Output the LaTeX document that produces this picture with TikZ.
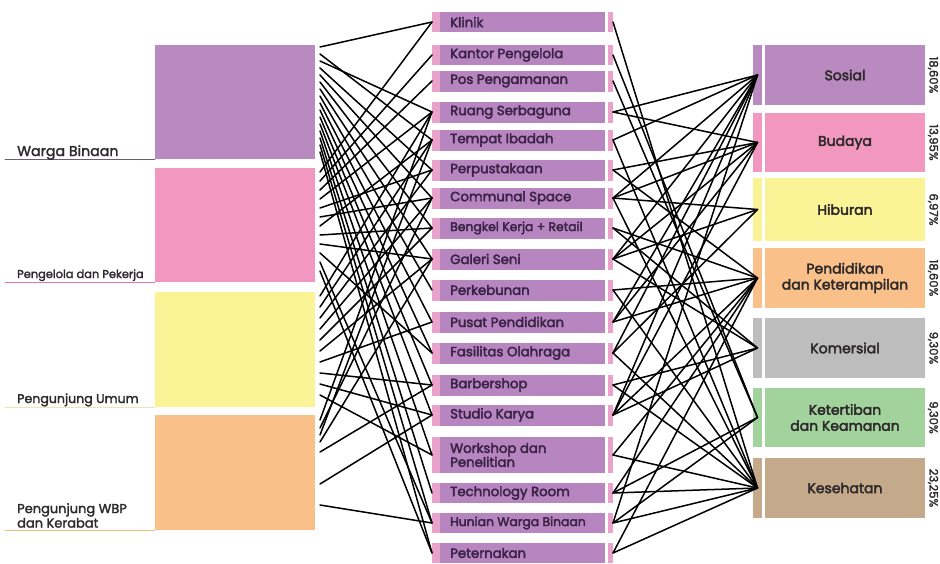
\documentclass[tikz,border=0pt]{standalone}
\usepackage{fontspec}
\setmainfont{Poppins}
\newfontfamily\popb{Poppins}[FakeBold=3]
\newfontfamily\popm{Poppins}[FakeBold=2]
\definecolor{cPur}{HTML}{B98AC0}
\definecolor{cPurD}{HTML}{6E5A72}
\definecolor{cPink}{HTML}{F297BF}
\definecolor{cPinkD}{HTML}{E277A8}
\definecolor{cYel}{HTML}{FBF497}
\definecolor{cYelD}{HTML}{EEE6B0}
\definecolor{cOra}{HTML}{FAC08A}
\definecolor{cOraD}{HTML}{E4C27A}
\definecolor{cGrey}{HTML}{BDBDBD}
\definecolor{cGreen}{HTML}{A2D39C}
\definecolor{cTan}{HTML}{C4AA8B}
\definecolor{cMid}{HTML}{B785BF}
\definecolor{cStrip}{HTML}{E9A3CB}
\definecolor{tMid}{HTML}{3B2347}
\definecolor{tDark}{HTML}{2E2A2C}
\begin{document}
\begin{tikzpicture}[x=1pt,y=-1pt,line cap=round,
  blk/.style={inner sep=0pt,outer sep=0pt,anchor=north west,minimum width=160},
  lbl/.style={inner sep=0pt,anchor=base west,text=tDark,align=left},
  mbox/.style={fill=cMid,inner sep=0pt,outer sep=0pt,minimum width=165},
  mstrip/.style={fill=cStrip,inner sep=0pt,outer sep=0pt,minimum width=8},
  mstripR/.style={fill=cStrip,inner sep=0pt,outer sep=0pt,minimum width=5},
  mtext/.style={anchor=west,inner sep=0pt,align=left,text=tMid,font=\popb\fontsize{13.3}{14}\selectfont},
  rstrip/.style={inner sep=0pt,outer sep=0pt,minimum width=9},
  rbox/.style={inner sep=0pt,outer sep=0pt,minimum width=160,align=center,text=tDark,font=\popb\fontsize{14}{16}\selectfont},
  pct/.style={rotate=-90,inner sep=0pt,text=tDark,font=\popm\fontsize{11.6}{12}\selectfont},
  link/.style={black,line width=1.5pt}]
\useasboundingbox[fill=white] (0,0) rectangle (940,563);

% left blocks
\node[blk,fill=cPur,minimum height=114] (WB) at (155,45) {};
\node[blk,fill=cPink,minimum height=114] (PP) at (155,168) {};
\node[blk,fill=cYel,minimum height=115] (PU) at (155,292) {};
\node[blk,fill=cOra,minimum height=115] (WBP) at (155,415) {};

\coordinate (u1) at (5,159);
\coordinate (u2) at (5,282);
\coordinate (u3) at (5,407);
\coordinate (u4) at (5,530);
\draw[cPurD,line width=0.9pt] (u1) -- (WB.south west);
\draw[cPinkD,line width=0.9pt] (u2) -- (PP.south west);
\draw[cYelD,line width=0.9pt] (u3) -- (PU.south west);
\draw[cOraD,line width=0.9pt] (u4) -- (WBP.south west);

\node[lbl,font=\popm\fontsize{14.2}{15}\selectfont] (lWB) at (17,156) {Warga Binaan};
\node[lbl,font=\popm\fontsize{11.4}{12}\selectfont] (lPP) at (17,278) {Pengelola dan Pekerja};
\node[lbl,font=\popm\fontsize{12.6}{13}\selectfont] (lPU) at (17,403) {Pengunjung Umum};
\node[lbl,font=\popm\fontsize{13}{14.5}\selectfont,anchor=north west] (lWBP) at (17,503) {Pengunjung WBP\\dan Kerabat};

% middle column
\foreach \i/\yc/\h/\t in {1/22/20/Klinik,2/55/20/Kantor Pengelola,3/81/21/Pos Pengamanan,
  4/112/21/Ruang Serbaguna,5/140/21/Tempat Ibadah,6/170/21/Perpustakaan,7/198/21/Communal Space,
  8/228/21/{\fontsize{12.4}{13}\selectfont Bengkel Kerja + Retail},9/259/21/Galeri Seni,10/290/21/Perkebunan,
  11/322/21/Pusat Pendidikan,12/353/21/Fasilitas Olahraga,13/385/21/Barbershop,14/415/21/Studio Karya,
  15/455/36/{Workshop dan\\Penelitian},16/493/20/Technology Room,17/523/20/{\fontsize{12.4}{13}\selectfont Hunian Warga Binaan},
  18/553/20/Peternakan}{
  \node[mstrip,minimum height=\h] (mL\i) at (436,\yc) {};
  \node[mbox,minimum height=\h] (m\i) at (522.5,\yc) {};
  \node[mstripR,minimum height=\h] (mR\i) at (610.5,\yc) {};
  \node[mtext] (t\i) at (450,\yc) {\t};
}

% right column
\foreach \i/\yc/\h/\c/\t/\p in {1/75/60/cPur/Sosial/{18,60\%},2/142.5/59/cPink/Budaya/{13,95\%},
  3/209.5/63/cYel/Hiburan/{6,97\%},4/278/60/cOra/{Pendidikan\\dan Keterampilan}/{18,60\%},
  5/348/60/cGrey/Komersial/{9,30\%},6/417.5/59/cGreen/{Ketertiban\\dan Keamanan}/{9,30\%},
  7/488/60/cTan/Kesehatan/{23,25\%}}{
  \node[rstrip,fill=\c,minimum height=\h] (rS\i) at (757.5,\yc) {};
  \node[rbox,fill=\c,minimum height=\h] (r\i) at (845,\yc) {\t};
  \node[pct] (p\i) at (933,\yc) {\p};
}

% left links
\foreach \y/\m in {47/1,54/5,61/4,68/6,75/7,82/8,89/9,96/10,103/11,110/12,117/13,124/14,131/15,138/16,145/17,152/18,
  172/1,181/2,190/3,199/4,208/6,217/7,226/5,235/8,244/9,253/12,262/17,271/18,
  296/4,307/5,318/6,329/7,340/8,351/9,362/11,373/13,384/14,395/15,
  420/4,428/7,435/5,442/9,452/13,484/14,505/17}{
  \coordinate (a\y) at (320,\y);
  \draw[link] (a\y) -- (mL\m.west);
}

% right links
\foreach \m/\r in {1/7,2/6,3/6,4/1,4/2,5/1,5/7,6/2,6/4,7/1,7/2,7/3,7/7,8/4,8/5,9/1,9/2,9/3,9/5,
  10/4,10/7,11/1,11/2,11/4,12/1,12/3,12/7,13/5,13/7,14/1,14/2,14/4,14/5,15/4,15/7,16/4,16/6,16/7,
  17/1,17/6,17/7,18/4,18/7}{
  \draw[link] (mR\m.east) -- (rS\r.center);
}
\end{tikzpicture}
\end{document}
